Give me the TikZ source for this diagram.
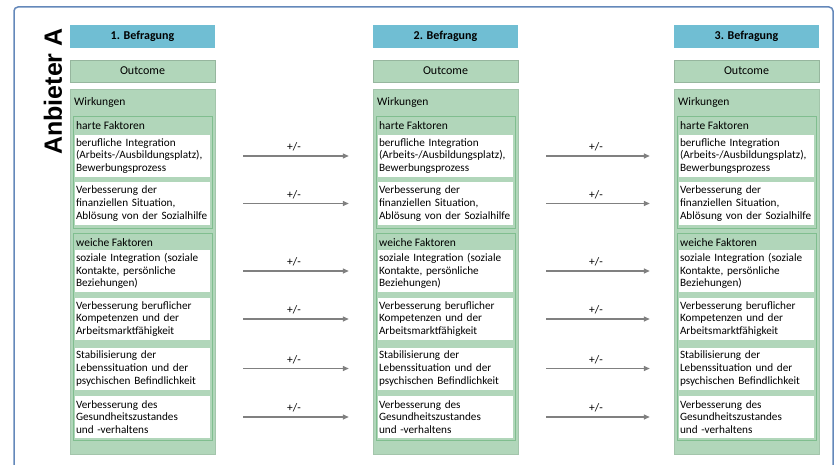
\documentclass[tikz,border=0pt]{standalone}
\usepackage{fontspec}
\setmainfont{Carlito}
\newfontfamily\anbfont{Liberation Sans}
\usetikzlibrary{arrows.meta}

\definecolor{kopfblau}{RGB}{112,190,211}
\definecolor{wirkgruen}{RGB}{177,214,186}
\definecolor{randgruen}{RGB}{128,190,143}
\definecolor{rahmenblau}{RGB}{100,136,186}
\definecolor{pfeilgrau}{RGB}{128,128,128}

\tikzset{
  kopf/.style={rectangle, fill=kopfblau, minimum width=145pt, minimum height=23pt,
    inner sep=0pt, font=\bfseries\fontsize{12}{14}\selectfont},
  outcome/.style={rectangle, fill=wirkgruen, draw=wirkgruen!85!black, minimum width=145pt,
    minimum height=22pt, inner sep=0pt, font=\fontsize{12}{14}\selectfont},
  wirk/.style={rectangle, fill=wirkgruen, draw=wirkgruen!92!black, minimum width=145pt,
    minimum height=365pt, inner sep=0pt},
  gruppe/.style={rectangle, draw=randgruen, line width=1pt, minimum width=139pt, inner sep=0pt},
  faktor/.style={rectangle, fill=white, minimum width=135pt, minimum height=42pt,
    text width=133pt, inner sep=1pt, align=left, font=\fontsize{11.2}{12.8}\selectfont},
  titel/.style={anchor=west, inner sep=0pt, font=\fontsize{11.5}{13}\selectfont},
  pfeil/.style={draw=pfeilgrau, line width=1.3pt, -{Triangle[length=6pt,width=5pt]},
    shorten <=33pt, shorten >=29pt},
  pm/.style={midway, above=4pt, inner sep=0pt, font=\fontsize{11.5}{13}\selectfont}
}

\begin{document}
\begin{tikzpicture}[x=1pt, y=-1pt]
\useasboundingbox (0,0) rectangle (837,465);

% Rahmen
\draw[rahmenblau, line width=1.5pt, rounded corners=4pt] (14,7) rectangle (833,485);
\node[rotate=90, inner sep=0pt, font=\anbfont\bfseries\fontsize{25}{28}\selectfont] (anb) at (53,91.5) {Anbieter A};

% 1. Befragung
\node[kopf] (k1) at (142.5,36.5) {1. Befragung};
\node[outcome] (out1) at (142.5,71) {Outcome};
\node[wirk] (wirk1) at (142.5,271.5) {};
\node[gruppe, minimum height=111pt] (harte1) at (142.5,172.5) {};
\node[gruppe, minimum height=207pt] (weich1) at (142.5,336.5) {};
\node[titel] (tw1) at (74,102) {Wirkungen};
\node[titel] (th1) at (76,126) {harte Faktoren};
\node[titel] (tx1) at (76,243) {weiche Faktoren};
\node[faktor] (int1) at (142.5,156) {berufliche Integration\\(Arbeits-/Ausbildungsplatz),\\Bewerbungsprozess};
\node[faktor] (fin1) at (142.5,203.5) {Verbesserung der\\finanziellen Situation,\\Ablösung von der Sozialhilfe};
\node[faktor] (soz1) at (142.5,271) {soziale Integration (soziale\\Kontakte, persönliche\\Beziehungen)};
\node[faktor] (komp1) at (142.5,319) {Verbesserung beruflicher\\Kompetenzen und der\\Arbeitsmarktfähigkeit};
\node[faktor] (stab1) at (142.5,368.5) {Stabilisierung der\\Lebenssituation und der\\psychischen Befindlichkeit};
\node[faktor] (ges1) at (142.5,417) {Verbesserung des\\Gesundheitszustandes\\und -verhaltens};

% 2. Befragung
\node[kopf] (k2) at (445.5,36.5) {2. Befragung};
\node[outcome] (out2) at (445.5,71) {Outcome};
\node[wirk] (wirk2) at (445.5,271.5) {};
\node[gruppe, minimum height=111pt] (harte2) at (445.5,172.5) {};
\node[gruppe, minimum height=207pt] (weich2) at (445.5,336.5) {};
\node[titel] (tw2) at (377,102) {Wirkungen};
\node[titel] (th2) at (379,126) {harte Faktoren};
\node[titel] (tx2) at (379,243) {weiche Faktoren};
\node[faktor] (int2) at (445.5,156) {berufliche Integration\\(Arbeits-/Ausbildungsplatz),\\Bewerbungsprozess};
\node[faktor] (fin2) at (445.5,203.5) {Verbesserung der\\finanziellen Situation,\\Ablösung von der Sozialhilfe};
\node[faktor] (soz2) at (445.5,271) {soziale Integration (soziale\\Kontakte, persönliche\\Beziehungen)};
\node[faktor] (komp2) at (445.5,319) {Verbesserung beruflicher\\Kompetenzen und der\\Arbeitsmarktfähigkeit};
\node[faktor] (stab2) at (445.5,368.5) {Stabilisierung der\\Lebenssituation und der\\psychischen Befindlichkeit};
\node[faktor] (ges2) at (445.5,417) {Verbesserung des\\Gesundheitszustandes\\und -verhaltens};

% 3. Befragung
\node[kopf] (k3) at (746.5,36.5) {3. Befragung};
\node[outcome] (out3) at (746.5,71) {Outcome};
\node[wirk] (wirk3) at (746.5,271.5) {};
\node[gruppe, minimum height=111pt] (harte3) at (746.5,172.5) {};
\node[gruppe, minimum height=207pt] (weich3) at (746.5,336.5) {};
\node[titel] (tw3) at (678,102) {Wirkungen};
\node[titel] (th3) at (680,126) {harte Faktoren};
\node[titel] (tx3) at (680,243) {weiche Faktoren};
\node[faktor] (int3) at (746.5,156) {berufliche Integration\\(Arbeits-/Ausbildungsplatz),\\Bewerbungsprozess};
\node[faktor] (fin3) at (746.5,203.5) {Verbesserung der\\finanziellen Situation,\\Ablösung von der Sozialhilfe};
\node[faktor] (soz3) at (746.5,271) {soziale Integration (soziale\\Kontakte, persönliche\\Beziehungen)};
\node[faktor] (komp3) at (746.5,319) {Verbesserung beruflicher\\Kompetenzen und der\\Arbeitsmarktfähigkeit};
\node[faktor] (stab3) at (746.5,368.5) {Stabilisierung der\\Lebenssituation und der\\psychischen Befindlichkeit};
\node[faktor] (ges3) at (746.5,417) {Verbesserung des\\Gesundheitszustandes\\und -verhaltens};

% Pfeile
\draw[pfeil] (int1) -- node[pm] {+/-} (int2);
\draw[pfeil] (fin1) -- node[pm] {+/-} (fin2);
\draw[pfeil] (soz1) -- node[pm] {+/-} (soz2);
\draw[pfeil] (komp1) -- node[pm] {+/-} (komp2);
\draw[pfeil] (stab1) -- node[pm] {+/-} (stab2);
\draw[pfeil] (ges1) -- node[pm] {+/-} (ges2);
\draw[pfeil] (int2) -- node[pm] {+/-} (int3);
\draw[pfeil] (fin2) -- node[pm] {+/-} (fin3);
\draw[pfeil] (soz2) -- node[pm] {+/-} (soz3);
\draw[pfeil] (komp2) -- node[pm] {+/-} (komp3);
\draw[pfeil] (stab2) -- node[pm] {+/-} (stab3);
\draw[pfeil] (ges2) -- node[pm] {+/-} (ges3);

\end{tikzpicture}
\end{document}
